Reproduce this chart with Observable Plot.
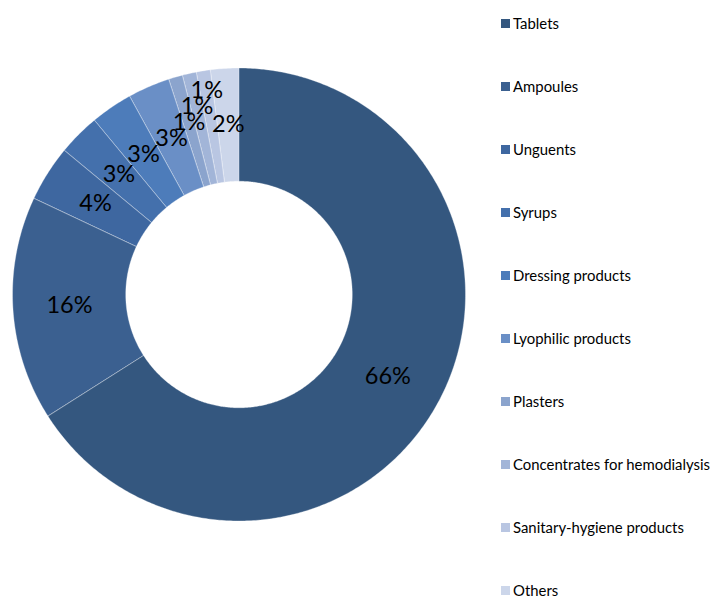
<!DOCTYPE html>
<html><head><meta charset="utf-8">
<script src="https://cdn.jsdelivr.net/npm/d3@7"></script>
<script src="https://cdn.jsdelivr.net/npm/@observablehq/plot@0.6"></script>
<style>
body{margin:0;background:#fff;font-family:Lato,"Open Sans",sans-serif}
#wrap{position:relative;width:711px;height:597px;overflow:hidden}
#legend{position:absolute;left:501px;top:0}
.item{position:absolute;left:0;display:flex;align-items:center;white-space:nowrap;font-size:14.9px;color:#000;height:14px;line-height:14px}
.sw{width:9px;height:9px;margin-right:3px;flex:none}
</style></head>
<body><div id="wrap"><div id="chart"></div><div id="legend"></div></div>
<script>
const categories = ["Tablets","Ampoules","Unguents","Syrups","Dressing products","Lyophilic products","Plasters","Concentrates for hemodialysis","Sanitary-hygiene products","Others"];
const values = [66,16,4,3,3,3,1,1,1,2];
const colors = ["#34577f","#3b6090","#3e67a0","#4470ac","#4d7cba","#6a8fc6","#8ba4cd","#a2b5d8","#b9c6e2","#ccd6ea"];
const labels = values.map(v => v + "%");

const total = d3.sum(values);
const inner = 0.5, outer = 1;
let cum = 0;
const slices = categories.map((c, i) => {
  const a0 = cum / total * 2 * Math.PI; cum += values[i];
  const a1 = cum / total * 2 * Math.PI;
  return {cat: c, i, a0, a1, v: values[i]};
});
const pts = [];
for (const s of slices) {
  const n = Math.max(2, Math.ceil((s.a1 - s.a0) / 0.01));
  for (let k = 0; k <= n; k++) { const a = s.a0 + (s.a1 - s.a0) * k / n; pts.push({cat: s.cat, x: outer * Math.sin(a), y: outer * Math.cos(a)}); }
  for (let k = n; k >= 0; k--) { const a = s.a0 + (s.a1 - s.a0) * k / n; pts.push({cat: s.cat, x: inner * Math.sin(a), y: inner * Math.cos(a)}); }
}

// label placement: start at the slice centroid; if a label collides with an
// already placed one, slide it outward along its radius (largest slices first)
const PX = 226.5, fs = 23.5;
const order = d3.range(slices.length).sort((a, b) => d3.descending(values[a], values[b]) || a - b);
const placed = [];
const labData = new Array(slices.length);
for (const i of order) {
  const s = slices[i], a = (s.a0 + s.a1) / 2;
  const w = labels[i].length * 22 * 0.6, h = 15;
  let best = null;
  for (let r = 0.75; r <= 0.97; r += 0.005) {
    const px = r * Math.sin(a) * PX, py = -r * Math.cos(a) * PX;
    const hit = placed.some(p => Math.abs(p.px - px) < (p.w + w) / 2 && Math.abs(p.py - py) < (p.h + h) / 2);
    if (!best) best = {px, py, w, h, r};
    if (!hit) { best = {px, py, w, h, r}; break; }
  }
  placed.push(best);
  labData[i] = {text: labels[i], x: best.px / PX, y: -best.py / PX};
}

const plot = Plot.plot({
  width: 711, height: 597,
  marginLeft: 12, marginRight: 246, marginTop: 67.5, marginBottom: 76.5,
  x: {domain: [-1, 1], axis: null},
  y: {domain: [-1, 1], axis: null},
  color: {type: "ordinal", domain: categories, range: colors},
  style: {fontFamily: "Lato, 'Open Sans', sans-serif", background: "#fff"},
  marks: [
    Plot.line(pts, {x: "x", y: "y", z: "cat", fill: "cat", stroke: "#ffffff", strokeOpacity: 0.55, strokeWidth: 0.6, curve: "linear-closed"}),
    Plot.text(labData, {x: "x", y: "y", text: "text", fontSize: fs, fill: "#000"})
  ]
});
document.getElementById("chart").appendChild(plot);

const color = plot.scale("color");
const leg = document.getElementById("legend");
categories.forEach((c, i) => {
  const it = document.createElement("div");
  it.className = "item";
  it.style.top = (16 + i * 63) + "px";
  const sw = document.createElement("span");
  sw.className = "sw"; sw.style.background = color.apply(c);
  const tx = document.createElement("span"); tx.textContent = c;
  it.appendChild(sw); it.appendChild(tx);
  leg.appendChild(it);
});
</script></body></html>
